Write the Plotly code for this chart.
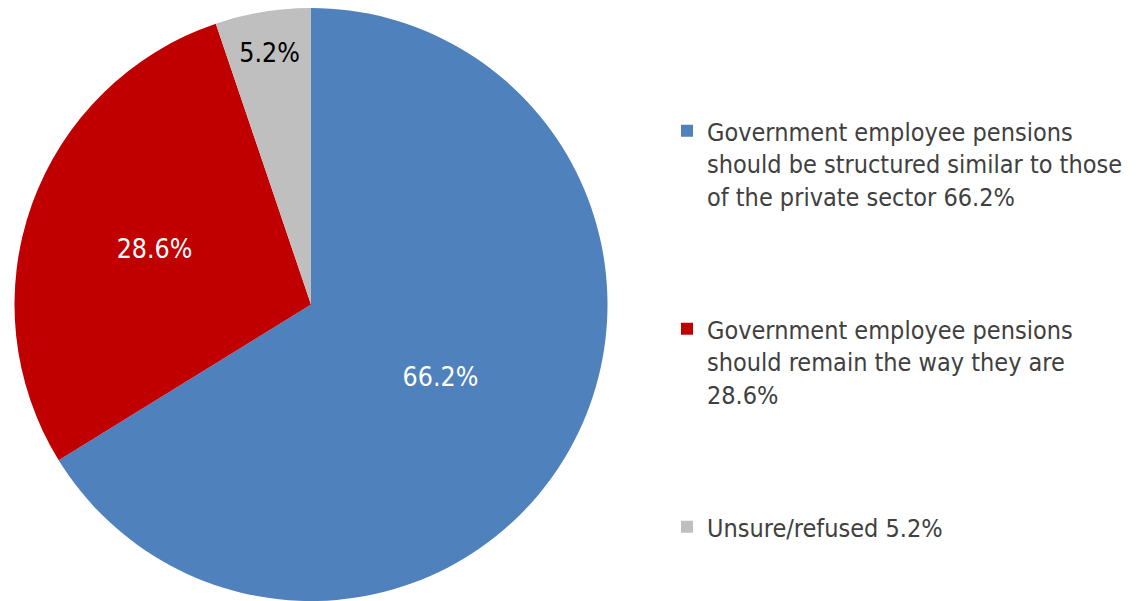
import plotly.graph_objects as go

labels = [
    "Government employee pensions<br>should be structured similar to those<br>of the private sector 66.2%",
    "Government employee pensions<br>should remain the way they are<br>28.6%",
    "Unsure/refused 5.2%",
]
values = [66.2, 28.6, 5.2]
colors = ["#4F81BD", "#C00000", "#BFBFBF"]
label_colors = ["white", "white", "black"]

# page body has an 8px margin, so the figure is drawn 8px in from the window corner
OFF = 8
W, H = 1148 - OFF, 601 - OFF
FONT = "DejaVu Sans Condensed, DejaVu Sans, sans-serif"
pad = "<br>\u00a0" * 3
legend_labels = [lab + (pad if i < len(labels) - 1 else "") for i, lab in enumerate(labels)]

cx, R = 311 - OFF, 296.5
fig = go.Figure(
    go.Pie(
        labels=legend_labels,
        values=values,
        sort=False,
        direction="clockwise",
        rotation=0,
        marker=dict(colors=colors, line=dict(width=0)),
        texttemplate="%{value:.1f}%",
        textposition="inside",
        insidetextorientation="horizontal",
        textfont=dict(family=FONT, size=26.5, color=label_colors),
        domain=dict(x=[(cx - R) / W, (cx + R) / W], y=[0, 1]),
        hoverinfo="label+percent",
    )
)

fig.update_layout(
    width=W,
    height=H,
    margin=dict(l=0, r=0, t=0, b=0),
    paper_bgcolor="white",
    plot_bgcolor="white",
    showlegend=True,
    legend=dict(
        x=(707 - OFF - 40) / W,
        xanchor="left",
        y=1 - 100 / H,
        yanchor="top",
        valign="top",
        font=dict(family=FONT, size=25, color="#404040"),
        bgcolor="rgba(0,0,0,0)",
        borderwidth=0,
        tracegroupgap=0,
    ),
)

fig.write_html("out.html")
